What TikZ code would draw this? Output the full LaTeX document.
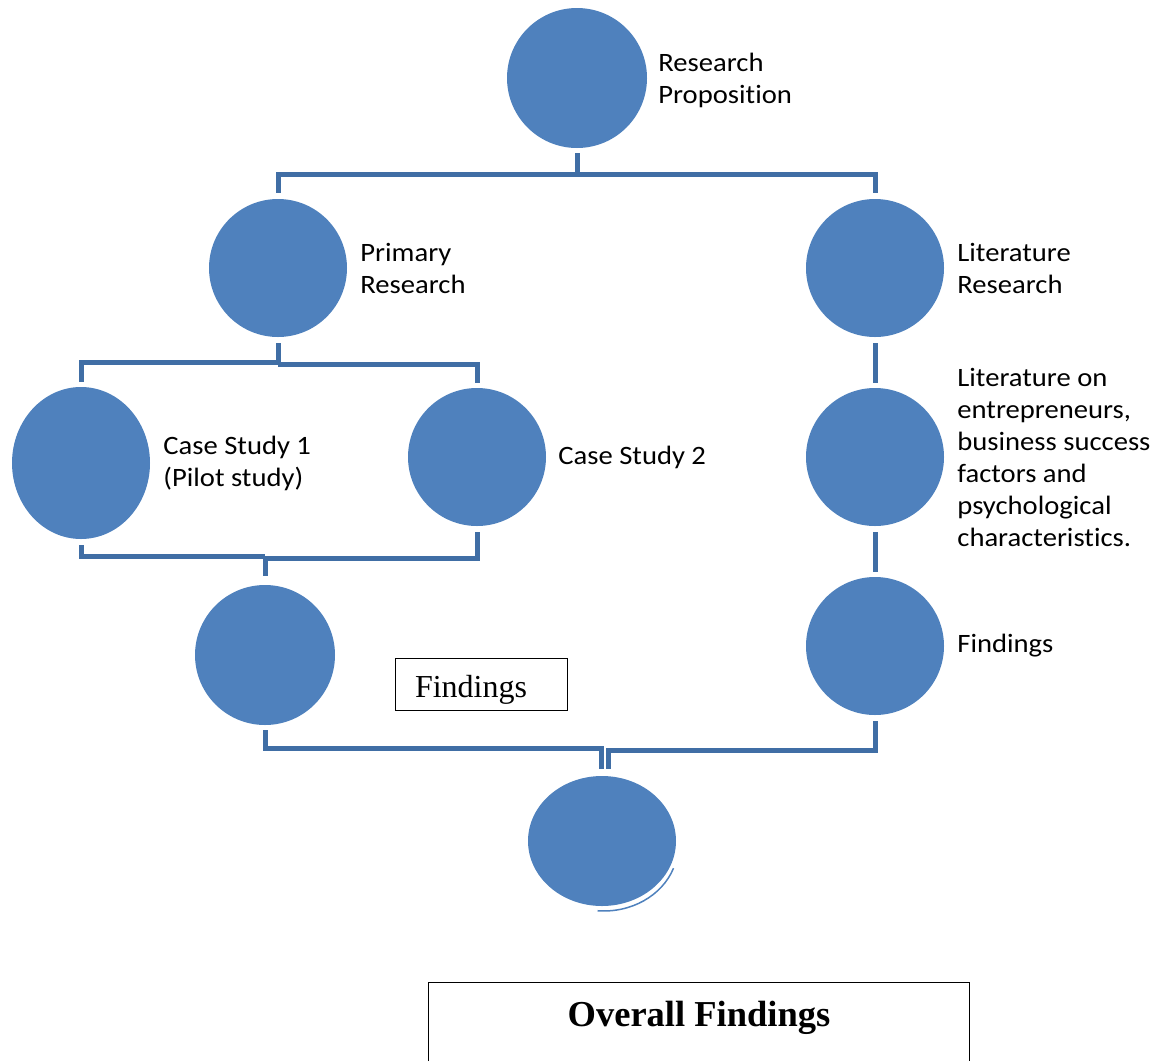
\documentclass[tikz,border=0pt]{standalone}
\usepackage{fontspec}
\setmainfont{Carlito}[FakeStretch=1.08, Ligatures=NoCommon]
\newfontfamily\boxfont{Liberation Serif}
\usetikzlibrary{positioning, shapes.geometric}
\definecolor{stageblue}{RGB}{79,129,189}
\definecolor{linkblue}{RGB}{64,110,165}
\tikzset{%
  stage/.style={      % blue discs
    circle, fill=stageblue, inner sep=0pt, minimum size=138pt},
  stagetext/.style={
    align=left, inner sep=0pt, font=\fontsize{26.5}{32}\selectfont},
  link/.style={
    draw=linkblue, line width=5pt},
  textbox/.style={
    draw, line width=0.8pt, inner sep=0pt} %
}

\begin{document}
\begin{tikzpicture}[x=1pt, y=-1pt]
  \useasboundingbox (0,0) rectangle (1168,1061);

  \node[stage, minimum size=140pt] (prop) at (577,78) {};
  \node[stage] (prim) at (278,268) {};
  \node[stage] (lit) at (875,268) {};
  \node[stage, ellipse, minimum width=138pt, minimum height=152pt] (cs1) at (81,463) {};
  \node[stage] (cs2) at (477,457) {};
  \node[stage] (litsf) at (875,457) {};
  \node[stage, minimum size=140pt] (fprim) at (265,655) {};
  \node[stage] (flit) at (875,646) {};
  \node[stage, ellipse, minimum width=148pt, minimum height=130pt] (final) at (602,841) {};

  \node[stagetext, right=11pt of prop, yshift=-2pt] (propt) {Research\\Proposition};
  \node[stagetext, right=13pt of prim] (primt) {Primary\\Research};
  \node[stagetext, right=13pt of lit] (litt) {Literature\\Research};
  \node[stagetext, right=13pt of cs1] (cs1t) {Case Study 1\\(Pilot study)};
  \node[stagetext, right=12pt of cs2] (cs2t) {Case Study 2};
  \node[stagetext, right=13pt of litsf] (litsft) {Literature on\\entrepreneurs,\\business success\\factors and\\psychological\\characteristics.};
  \node[stagetext, right=13pt of flit] (flitt) {Findings};

  \node[textbox, text width=132pt, inner xsep=20pt, minimum height=52pt, align=left,
        text height=26pt, text depth=0pt, font=\boxfont\fontsize{32}{36}\selectfont]
        (findbox) at (481,684) {Findings};
  \node[inner sep=0pt, minimum width=540pt, minimum height=78pt, text depth=16pt,
        font=\boxfont\bfseries\fontsize{36.5}{40}\selectfont]
        (overall) at (699,1022) {Overall Findings};
  \draw[line width=0.8pt] (overall.south west) -- (overall.north west)
        -- (overall.north east) -- (overall.south east);

  % top split
  \draw[link] ([yshift=-5pt]prop.south) -- ++(0,21) coordinate (j0);
  \draw[link] ([yshift=6pt]prim.north) |- (j0) -| ([yshift=6pt]lit.north);

  % primary split
  \draw[link] ([yshift=-6pt]prim.south) -- ++(0,19) coordinate (j1);
  \draw[link] (j1) -| ([yshift=5pt]cs1.north);
  \draw[link] ([yshift=-2pt]j1) -| ([yshift=5pt]cs2.north);

  % case studies join
  \draw[link] ([yshift=9pt]fprim.north) -- ++(0,-19) coordinate (j2);
  \draw[link] ([yshift=-6pt]cs1.south) |- (j2);
  \draw[link] ([yshift=-6pt]cs2.south) |- ([yshift=-2pt]j2);

  % literature chain
  \draw[link] ([yshift=-6pt]lit.south) -- ([yshift=5pt]litsf.north);
  \draw[link] ([yshift=-6pt]litsf.south) -- ([yshift=5pt]flit.north);

  % join to final
  \coordinate (j3) at ([xshift=-1pt, yshift=7pt]final.north);
  \draw[link] ([yshift=-5pt]fprim.south) |- ([yshift=20pt]j3) -- (j3);
  \draw[link] ([yshift=-6pt]flit.south) |- ([xshift=7pt, yshift=18pt]j3) -- ([xshift=7pt]j3);

  \draw[stageblue, line width=1.5pt] ([shift={(71.5pt,-27.2pt)}]final.center)
        arc[start angle=-20, end angle=-95, x radius=74pt, y radius=65pt];
\end{tikzpicture}
\end{document}
